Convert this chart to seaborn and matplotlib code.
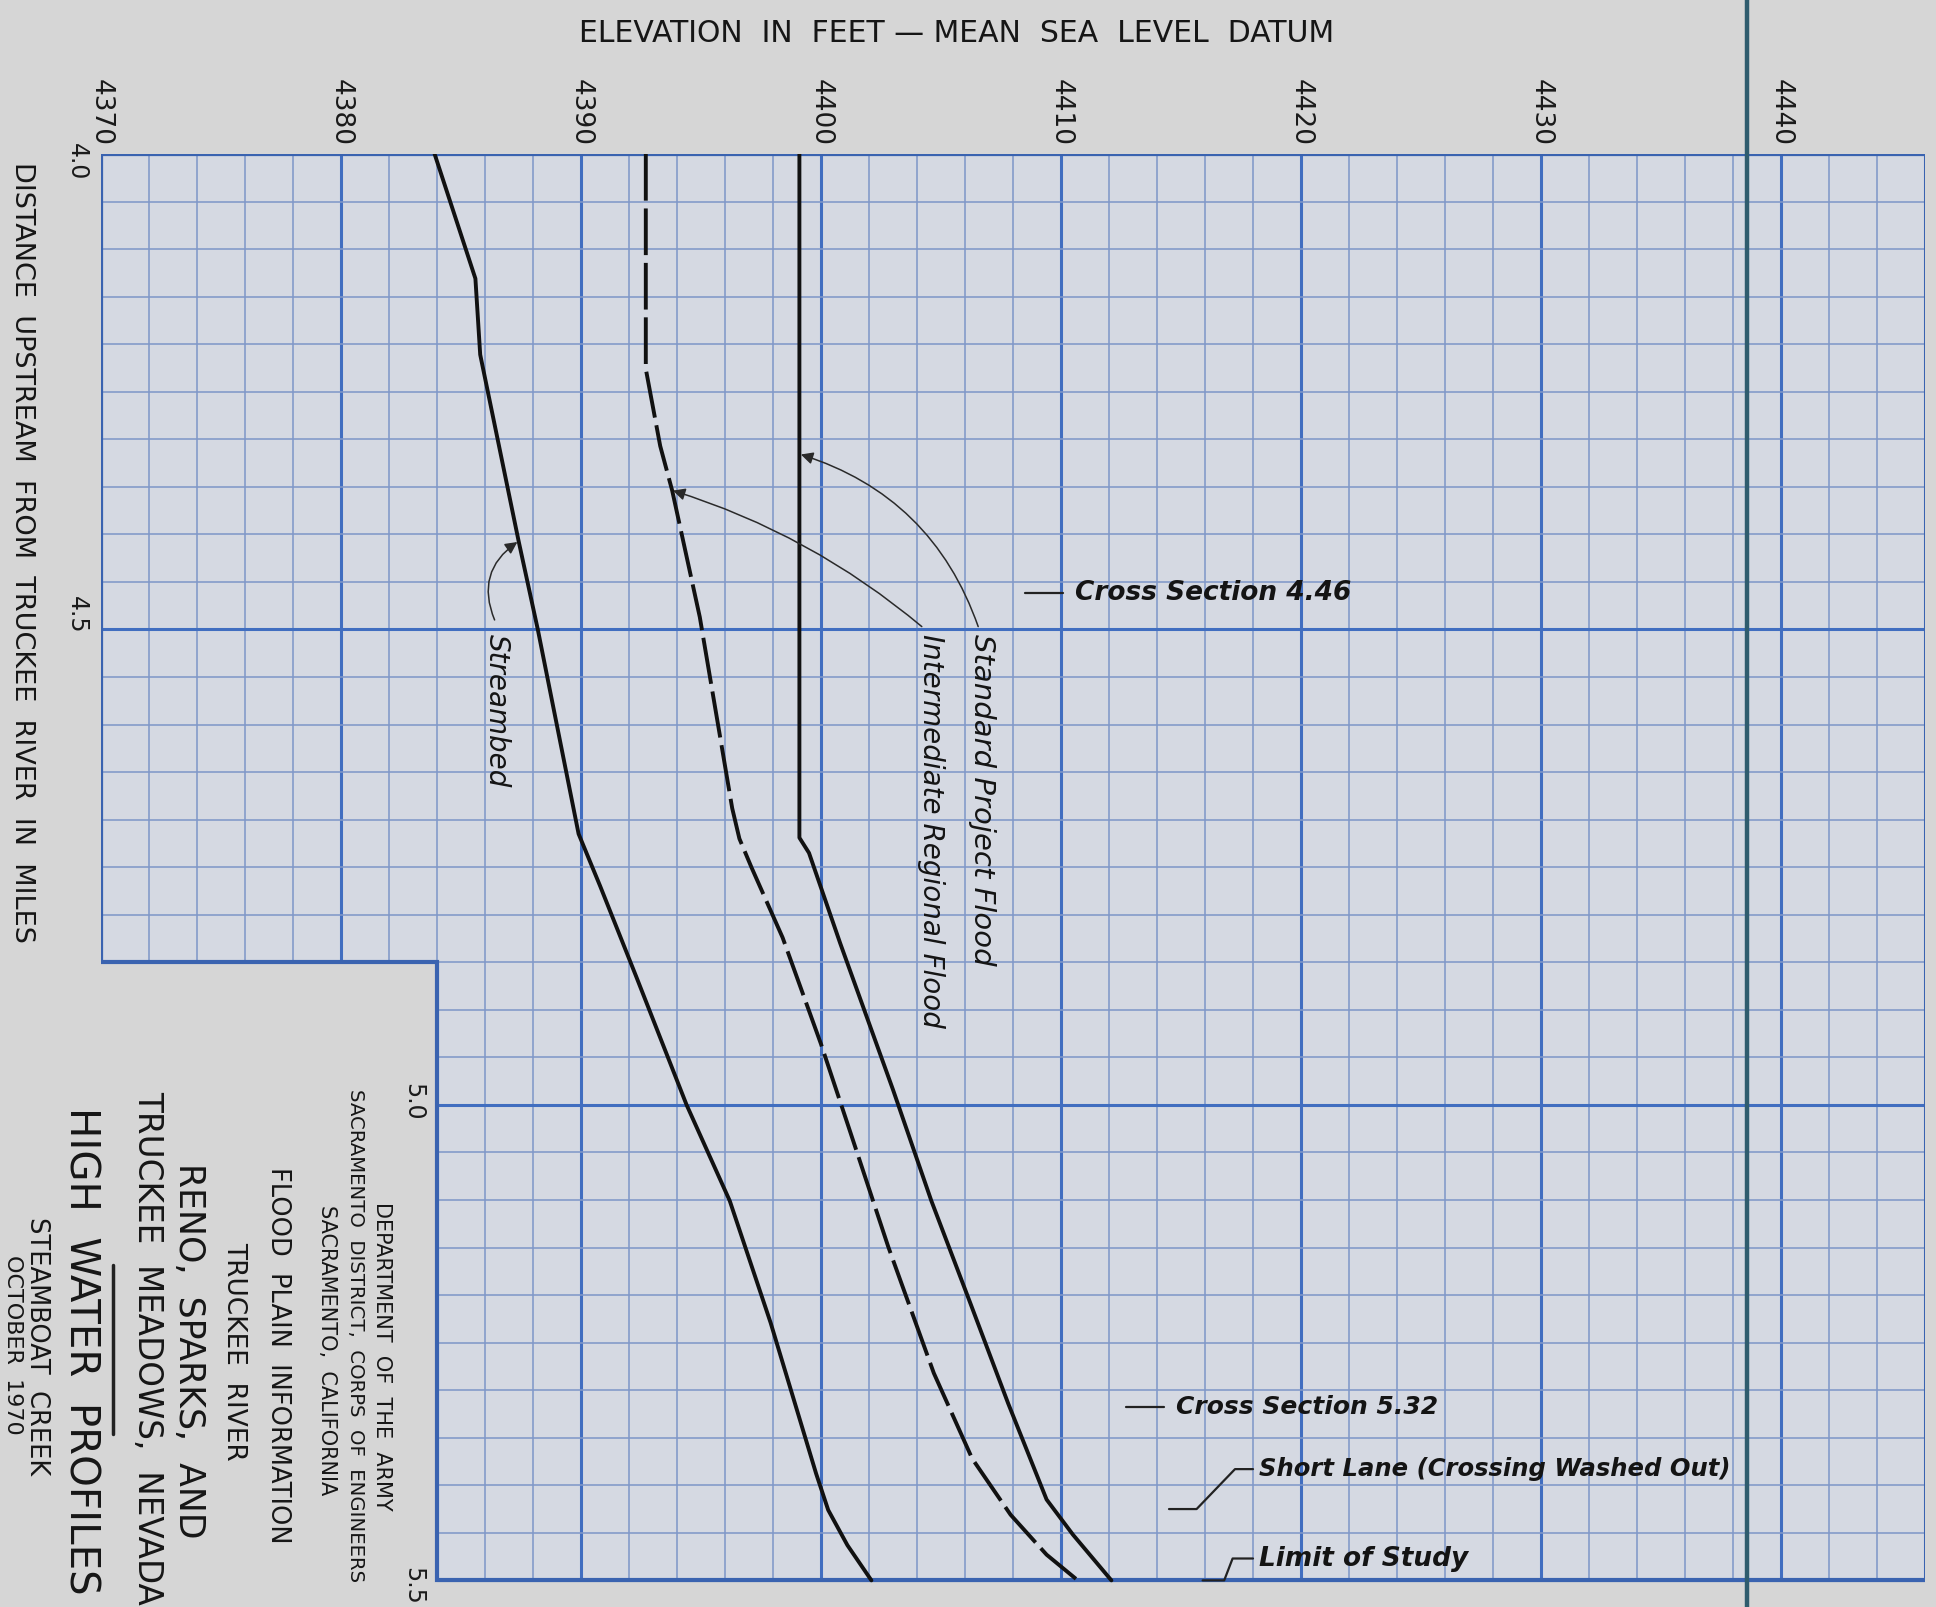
import numpy as np
import matplotlib.pyplot as plt
import seaborn as sns
from matplotlib.lines import Line2D

# Perfiles de agua alta - Steamboat Creek (elevacion en pies, distancia en millas)
streambed_elev = [4383.9, 4385.6, 4385.8, 4387.4, 4388.2, 4389.9, 4390.8, 4392.3,
                  4394.4, 4396.2, 4397.9, 4399.8, 4400.3, 4401.1, 4402.1]
streambed_dist = [4.0, 4.131, 4.211, 4.407, 4.5, 4.715, 4.77, 4.865,
                  5.0, 5.101, 5.229, 5.388, 5.426, 5.463, 5.5]

irf_elev = [4392.7, 4392.7, 4393.3, 4393.8, 4394.95, 4396.3, 4396.6, 4397.1, 4398.4,
            4400.0, 4401.2, 4402.8, 4404.7, 4406.3, 4407.9, 4409.4, 4410.7]
irf_dist = [4.0, 4.226, 4.307, 4.354, 4.487, 4.688, 4.72, 4.75, 4.824,
            4.936, 5.027, 5.149, 5.282, 5.372, 5.431, 5.473, 5.5]

spf_elev = [4399.1, 4399.1, 4399.5, 4400.8, 4403.0, 4404.6, 4406.2, 4407.8, 4409.4, 4410.5, 4412.1]
spf_dist = [4.0, 4.719, 4.735, 4.83, 4.984, 5.101, 5.207, 5.314, 5.415, 5.452, 5.5]

x_ticks = [4370, 4380, 4390, 4400, 4410, 4420, 4430, 4440]
y_ticks = [4.0, 4.5, 5.0, 5.5]
y_tick_labels = ['4.0', '4.5', '5.0', '5.5']
y_label_pos = [4.008, 4.485, 4.997, 5.506]  # donde cae el texto de cada rotulo

# secciones transversales
xs_labels = ['Cross Section 4.46', 'Cross Section 5.32']
xs_dist = [4.462, 5.318]
xs_elev = [4408.5, 4412.7]
xs_size = [19, 18]

# puntos de referencia con linea quebrada (pie -> quiebre -> texto)
lm_labels = ['Short Lane (Crossing Washed Out)', 'Limit of Study']
lm_dist = [5.425, 5.5]
lm_text_dist = [5.383, 5.477]
lm_x = [[4414.5, 4415.65, 4417.25, 4418.0], [4415.9, 4416.8, 4417.15, 4418.0]]
lm_size = [17.5, 19]

# etiquetas de curvas: (texto, inicio flecha, punta flecha, curvatura)
curve_labels = ['Streambed', 'Intermediate Regional Flood', 'Standard Project Flood']
label_elev = [4386.5, 4404.6, 4406.7]
label_size = [20, 20, 21]
arrow_start = [(4386.4, 4.49), (4404.2, 4.497), (4406.55, 4.497)]
arrow_tip = [(4387.35, 4.408), (4393.83, 4.354), (4399.16, 4.316)]
arrow_rad = [-0.4, 0.1, 0.25]

sns.set_style('white')
plt.rcParams['font.family'] = ['DejaVu Sans']

W, H = 1936, 1607
fig = plt.figure(figsize=(W / 100, H / 100), dpi=100)
fig.patch.set_facecolor('#d6d6d6')
ax = fig.add_axes([101 / W, 0, 1824 / W, 1 - 154 / H])
ax.set_facecolor('none')
ax.set_xlim(4370, 4446)
ax.set_ylim(5.528, 4.0)
for s in ax.spines.values():
    s.set_visible(False)

# papel cuadriculado en forma de L
x_lo, x_step, x_hi = 4370, 4384, 4446
y_top, y_step, y_bot = 4.0, 4.85, 5.5
ax.fill([x_lo, x_hi, x_hi, x_step, x_step, x_lo], [y_top, y_top, y_bot, y_bot, y_step, y_step],
        color='#d5d9e2', zorder=0)

minor_col = '#8098c8'
major_col = '#416ec0'
for x in np.arange(4370, 4447, 2):
    bot = y_step if x < x_step else y_bot
    major = (x % 10 == 0)
    ax.vlines(x, y_top, bot, color=major_col if major else minor_col,
              lw=2.2 if major else 1.15, zorder=1)
for y in np.round(np.arange(4.0, 5.501, 0.05), 2):
    left = x_step if y > y_step else x_lo
    major = abs(y * 2 - round(y * 2)) < 1e-6
    ax.hlines(y, left, x_hi, color=major_col if major else minor_col,
              lw=2.2 if major else 1.15, zorder=1)

# borde
ax.plot([x_hi, x_lo, x_lo, x_step, x_step, x_hi], [y_top, y_top, y_step, y_step, y_bot, y_bot],
        color='#3a63b0', lw=3, zorder=2, solid_joinstyle='miter')
ax.plot([x_hi, x_hi], [y_top, y_bot], color='#3a63b0', lw=2.2, zorder=2)
# linea gruesa del pliegue
ax.axvline(4438.6, ymin=0, ymax=1.12, clip_on=False, color='#2f5c6e', lw=3.2, zorder=2)

# curvas
sns.lineplot(x=streambed_elev, y=streambed_dist, sort=False, estimator=None,
             color='#111111', linewidth=2.8, ax=ax, zorder=3)
sns.lineplot(x=irf_elev, y=irf_dist, sort=False, estimator=None,
             color='#111111', linewidth=2.8, linestyle=(0, (12, 2.0)), ax=ax, zorder=3)
sns.lineplot(x=spf_elev, y=spf_dist, sort=False, estimator=None,
             color='#111111', linewidth=2.8, ax=ax, zorder=3)
ax.set_xlabel('')
ax.set_ylabel('')

# ejes
ax.set_xticks(x_ticks)
ax.set_xticklabels([str(t) for t in x_ticks])
ax.xaxis.tick_top()
ax.tick_params(axis='x', length=0, pad=6, labelsize=19, labelrotation=270, labelcolor='#1a1a1a')
ax.set_yticks([])
for t, yp, lab in zip(y_ticks, y_label_pos, y_tick_labels):
    xpos = (x_lo if t <= y_step else x_step) - 1.0
    ax.text(xpos, yp, lab, rotation=270, ha='center', va='center', fontsize=17, color='#1a1a1a')

fig.text(957 / W, 1 - 33 / H, 'ELEVATION  IN  FEET — MEAN  SEA  LEVEL  DATUM',
         ha='center', va='center', fontsize=21.5, color='#161616')
fig.text(22 / W, 1 - 552 / H, 'DISTANCE  UPSTREAM  FROM  TRUCKEE  RIVER  IN  MILES',
         rotation=270, ha='center', va='center', fontsize=19.5, color='#161616')

# etiquetas de curvas con flechas
for lab, xe, fs, st, tp, rad in zip(curve_labels, label_elev, label_size, arrow_start, arrow_tip, arrow_rad):
    ax.text(xe, 4.505, lab, rotation=270, ha='center', va='top', fontsize=fs,
            fontstyle='italic', color='#141414', zorder=4)
    ax.annotate('', xy=tp, xytext=st, zorder=4,
                arrowprops=dict(arrowstyle='-|>', color='#2a2a2a', lw=1.1, mutation_scale=18,
                                shrinkA=0, shrinkB=0, connectionstyle=f'arc3,rad={rad}'))

for lab, xe, yd, fs in zip(xs_labels, xs_elev, xs_dist, xs_size):
    ax.plot([xe, xe + 1.6], [yd, yd], color='#222222', lw=1.6, zorder=4)
    ax.text(xe + 2.1, yd, lab, ha='left', va='center', fontsize=fs, fontstyle='italic',
            fontweight='bold', color='#141414', zorder=4)

for lab, xs, yd, yt, fs in zip(lm_labels, lm_x, lm_dist, lm_text_dist, lm_size):
    ax.plot(xs, [yd, yd, yt, yt], color='#222222', lw=1.6, zorder=4, clip_on=False)
    ax.text(xs[-1] + 0.25, yt, lab, ha='left', va='center', fontsize=fs, fontstyle='italic',
            fontweight='bold', color='#141414', zorder=4)

# bloque de titulo
title_block = [
    ('DEPARTMENT  OF  THE  ARMY', 382, 1356, 15),
    ('SACRAMENTO  DISTRICT,  CORPS  OF  ENGINEERS', 355, 1336, 14.2),
    ('SACRAMENTO,  CALIFORNIA', 327, 1350, 15),
    ('FLOOD  PLAIN  INFORMATION', 278, 1355, 18.5),
    ('TRUCKEE  RIVER', 234, 1351, 19),
    ('RENO,  SPARKS,  AND', 189, 1351, 25),
    ('TRUCKEE  MEADOWS,  NEVADA', 148, 1348, 23.5),
    ('HIGH  WATER  PROFILES', 80, 1351, 29),
    ('STEAMBOAT  CREEK', 37, 1346, 18.5),
    ('OCTOBER  1970', 13, 1345, 16),
]
for txt, px, py, fs in title_block:
    fig.text(px / W, 1 - py / H, txt, rotation=270, ha='center', va='center',
             fontsize=fs, color='#161616')
fig.add_artist(Line2D([113 / W, 113 / W], [1 - 1265 / H, 1 - 1434 / H], lw=2.5, color='#222222'))

fig.savefig('out.png', dpi=100, facecolor=fig.get_facecolor())
